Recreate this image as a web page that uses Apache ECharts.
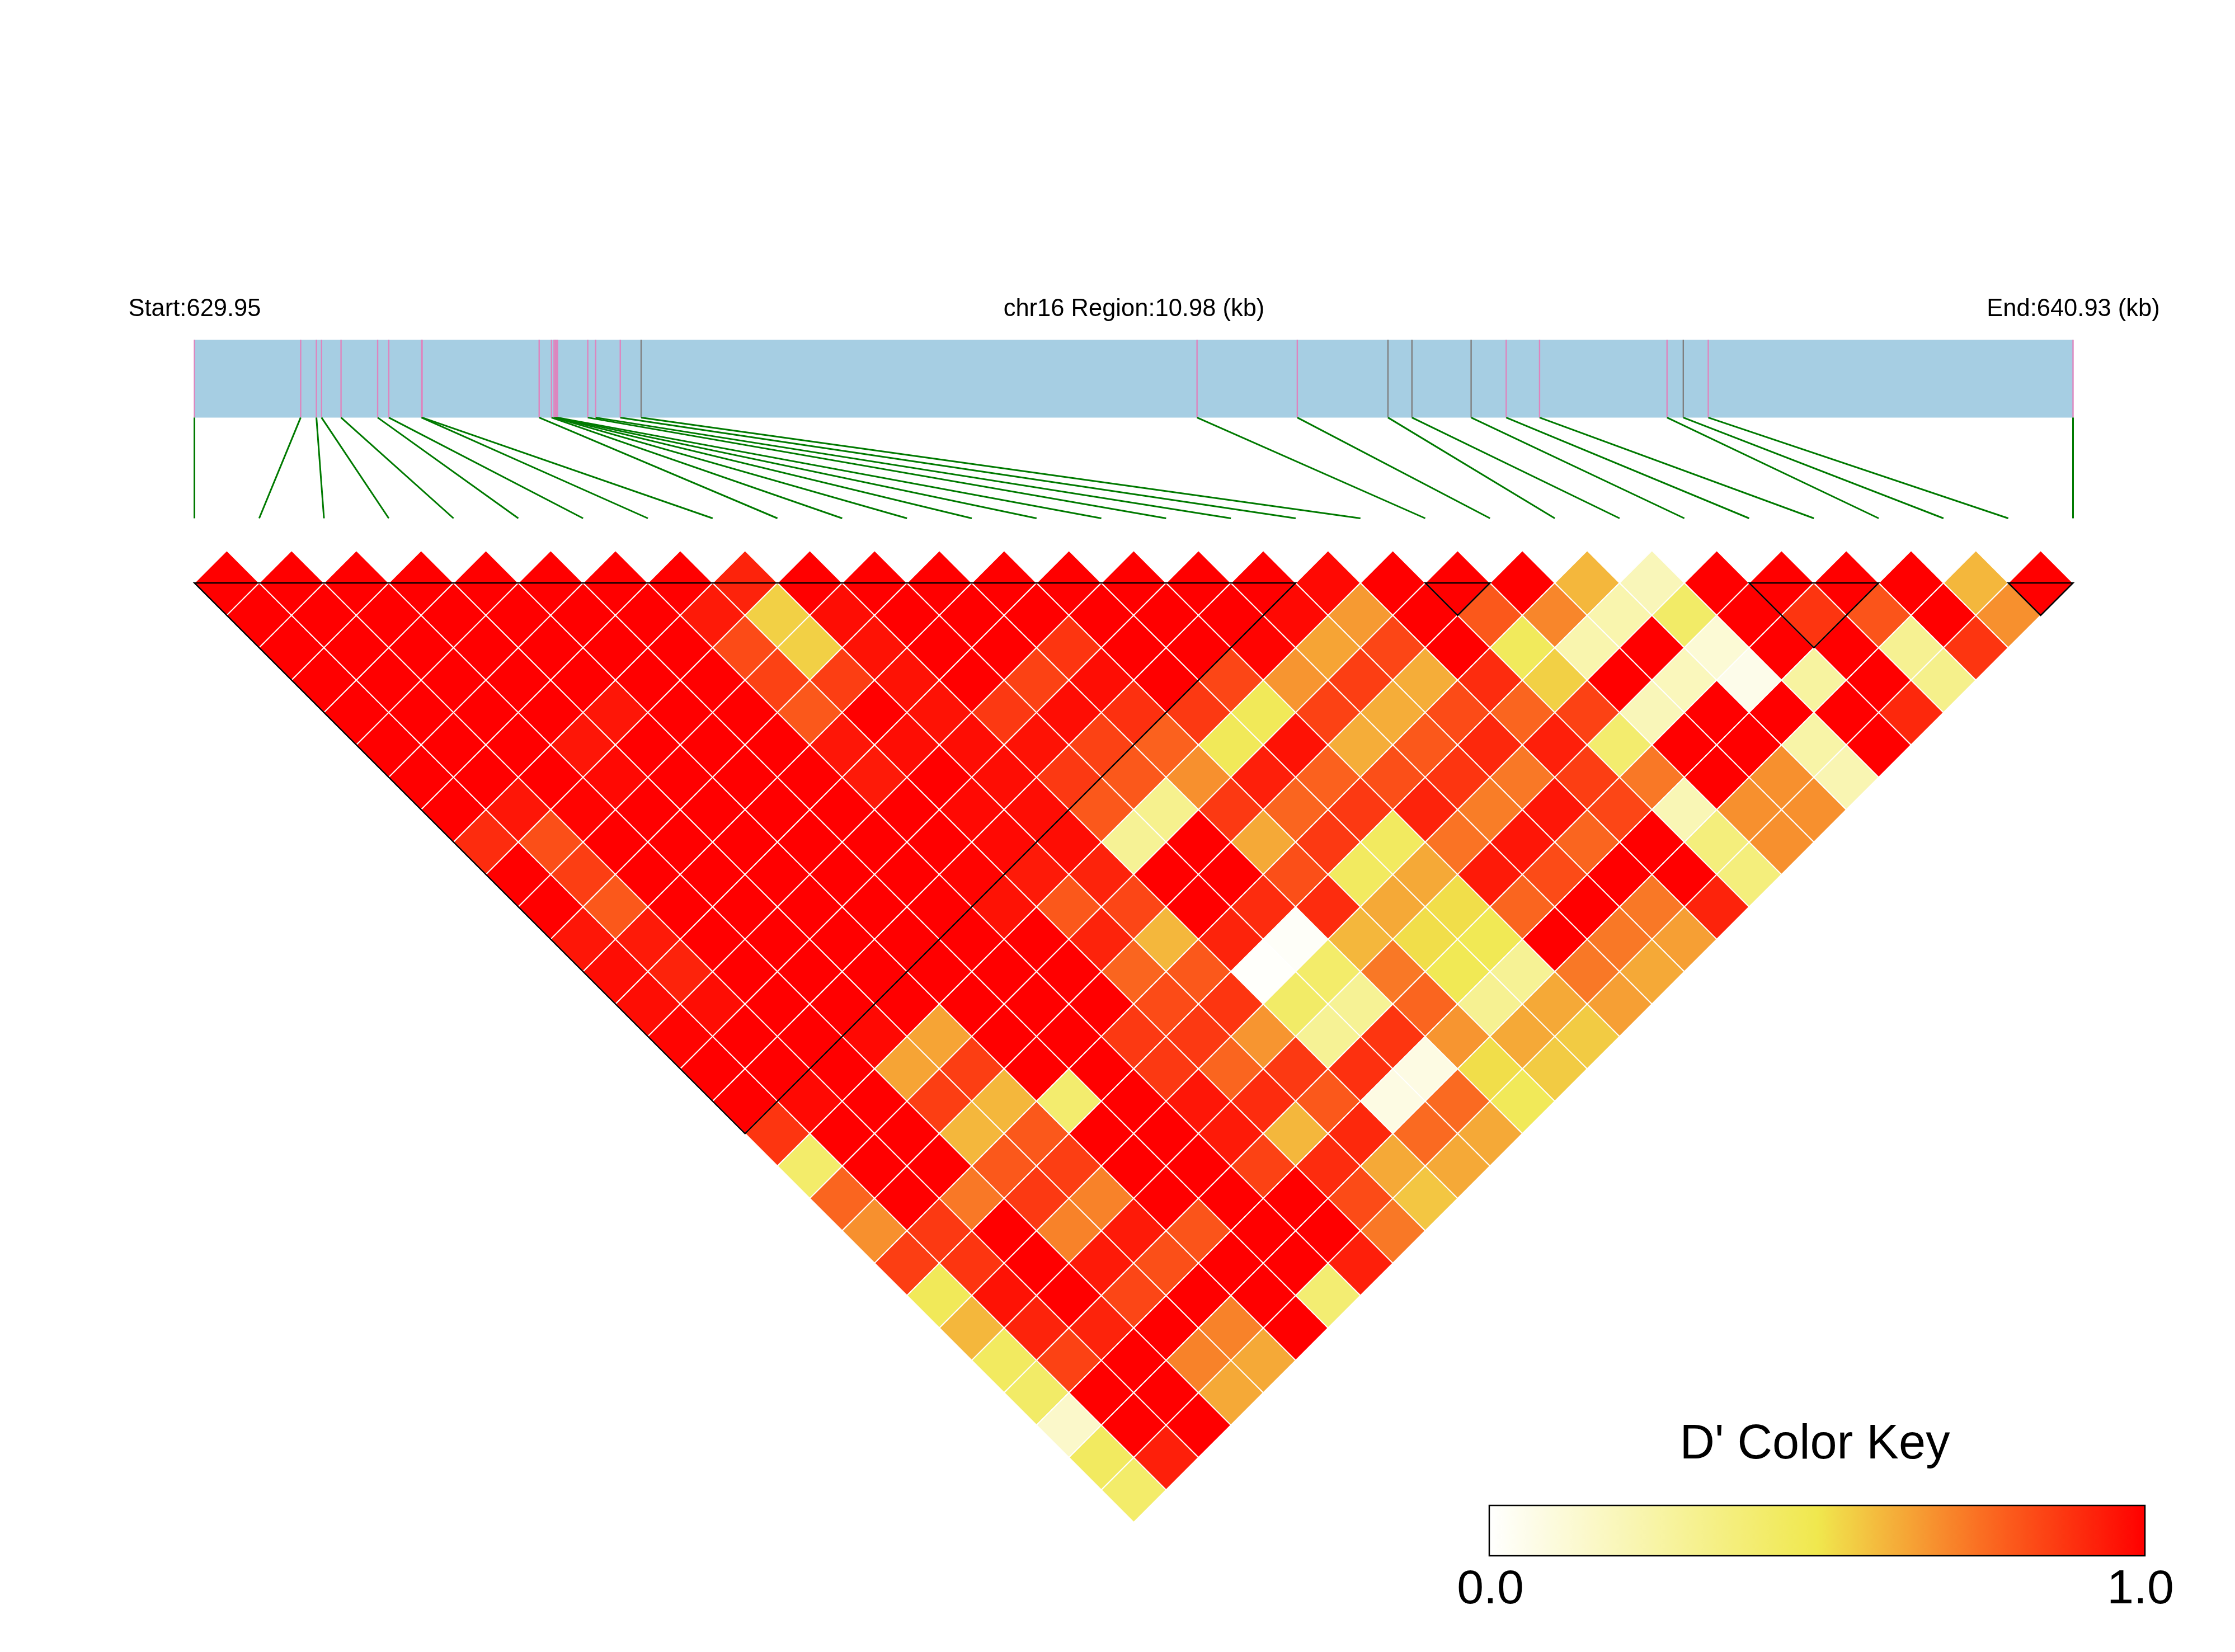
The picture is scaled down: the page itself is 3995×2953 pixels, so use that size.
<!DOCTYPE html>
<html>
<head>
<meta charset="utf-8">
<style>html,body{margin:0;padding:0;background:#fff}#chart{width:3995px;height:2953px}</style>
<script src="https://cdn.jsdelivr.net/npm/echarts@6/dist/echarts.min.js"></script>
</head>
<body>
<div id="chart"></div>
<script>
// SNP positions on the chromosome (kb)
const regionStart = 629.95;
const regionEnd = 640.93;
const snpKb = [629.95,630.571,630.663,630.693,630.807,631.021,631.086,631.277,631.281,631.965,
  632.037,632.052,632.059,632.065,632.072,632.249,632.295,632.439,632.561,635.81,
  636.396,636.926,637.066,637.412,637.617,637.812,638.557,638.652,638.798,640.93];
const graySnps = [18,21,22,23,27];

// LD blocks as [first SNP, last SNP]
const blocks = [[0,17],[19,20],[24,26],[28,29]];

// D' values: each list holds SNP i against SNP i+1, i+2, ... 29
const snp00 = [1,1,1,1,1,1,1,1,.90,1,1,.95,.97,.97,.99,1,1,.88,.42,.77,.68,.86,.47,.60,.45,.43,.15,.45,.42];
const snp01 = [1,1,1,1,1,1,1,.95,.82,.86,.80,.94,.92,.97,1,1,.98,1,1,1,.87,.88,.96,.92,.85,1,1,.93];
const snp02 = [1,1,1,1,1,1,1,.99,1,1,1,1,1,1,1,1,1,1,1,.73,1,1,1,.92,1,1,1];
const snp03 = [1,1,1,1,1,.95,.98,1,1,1,1,1,1,1,.98,.64,.86,.60,.80,.87,.71,.94,.84,1,.71,.63];
const snp04 = [1,1,1,1,.95,1,1,1,1,1,1,1,1,1,.64,.86,.60,.80,.86,.71,.94,.82,1,.71,.63];
const snp05 = [1,1,1,1,1,1,1,1,1,1,1,1,1,1,1,1,.41,1,1,1,.81,1,1,1];
const snp06 = [1,1,1,1,1,1,1,1,1,1,1,1,1,1,1,1,1,1,1,1,1,1,.40];
const snp07 = [1,.94,.83,.85,.80,.95,.94,1,1,.99,.96,1,1,1,.87,.87,.95,.94,.85,1,1,.93];
const snp08 = [.92,.55,.55,.86,1,.97,1,.98,.98,.94,.80,.92,.77,.83,.87,.77,.90,.60,.90,.83,.73];
const snp09 = [1,.97,.96,.96,.96,.97,.97,.97,.97,.92,.84,.60,.80,.88,.67,.87,.80,.91,.63,.57];
const snp10 = [1,1,1,1,.87,.96,.87,.80,.30,1,1,.92,.01,.43,.30,.89,.08,.76,.63];
const snp11 = [1,1,1,.85,.97,.85,.80,.32,1,1,.90,.02,.42,.30,.88,.08,.76,.63];
const snp12 = [1,1,.88,.97,.89,.78,.68,.87,.63,.82,.90,.60,.73,.77,.67,.52,.47];
const snp13 = [1,1,1,1,.87,.47,.93,.77,.87,.45,.63,.52,.48,.31,.63,.56];
const snp14 = [1,1,1,.84,.47,.96,.78,.87,.45,.63,.52,.48,.30,.63,.56];
const snp15 = [1,1,.99,.67,.85,.62,.82,.92,.74,.94,.77,1,.73,.65];
const snp16 = [1,.98,.64,.86,.62,.80,.88,.72,.95,.83,1,.73,.63];
const snp17 = [.98,.66,.84,.62,.83,.91,.73,.95,.77,1,.73,.65];
const snp18 = [1,1,1,.90,.77,.93,.86,.84,1,1,.92];
const snp19 = [1,.80,.46,.55,.85,.41,.73,.21,.37,.37];
const snp20 = [1,.70,.23,1,.20,1,1,.68,.68];
const snp21 = [.60,.23,1,.19,1,1,.68,.68];
const snp22 = [.20,.43,.12,.06,1,.25,.22];
const snp23 = [1,1,1,.27,1,1];
const snp24 = [1,.88,1,1,.91];
const snp25 = [1,.81,.31,.33];
const snp26 = [1,1,.88];
const snp27 = [.60,.68];
const snp28 = [1];
const dPrimeRows = [snp00,snp01,snp02,snp03,snp04,snp05,snp06,snp07,snp08,snp09,snp10,snp11,snp12,snp13,snp14,
  snp15,snp16,snp17,snp18,snp19,snp20,snp21,snp22,snp23,snp24,snp25,snp26,snp27,snp28];

const ldCells = [];
dPrimeRows.forEach((row, i) => row.forEach((v, n) => ldCells.push([i, i + 1 + n, v])));
const snpCount = snpKb.length;
const BAR_BOTTOM = 0.4354;
const FONT = '"Liberation Sans", Arial, sans-serif';

const chart = echarts.init(document.getElementById('chart'), null, {renderer:'canvas'});

function renderCell(params, api) {
  const i = api.value(0), j = api.value(1), cx = (i + j) / 2, k = j - i - 1;
  const points = [[cx - .5, k], [cx, k - 1], [cx + .5, k], [cx, k + 1]].map(p => api.coord(p));
  return {type:'polygon', shape:{points}, style:{fill:api.visual('color'), stroke:'#fff', lineWidth:2}};
}
function renderBlock(params, api) {
  const a = api.value(0), b = api.value(1);
  const points = [[a, 0], [b, 0], [(a + b) / 2, b - a]].map(p => api.coord(p));
  return {type:'polygon', shape:{points}, style:{fill:'none', stroke:'#000', lineWidth:2.5}, z2:10};
}
function renderBar(params, api) {
  const p0 = api.coord([api.value(0), 0]), p1 = api.coord([api.value(1), BAR_BOTTOM]);
  return {type:'rect', shape:{x:p0[0], y:p0[1], width:p1[0]-p0[0], height:p1[1]-p0[1]}, style:{fill:'#A6CEE3'}};
}
function renderTick(params, api) {
  const p0 = api.coord([api.value(0), 0]), p1 = api.coord([api.value(0), BAR_BOTTOM]);
  const gray = graySnps.includes(params.dataIndex);
  return {type:'line', shape:{x1:p0[0], y1:p0[1], x2:p1[0], y2:p1[1]},
    style:{stroke: gray ? '#7F7F7F' : '#DE85BE', lineWidth:2.4}};
}
function renderLink(params, api) {
  const idx = params.dataIndex;
  const bottomKb = regionStart + idx / (snpCount - 1) * (regionEnd - regionStart);
  const p0 = api.coord([api.value(0), BAR_BOTTOM]), p1 = api.coord([bottomKb, 1]);
  return {type:'line', shape:{x1:p0[0], y1:p0[1], x2:p1[0], y2:p1[1]},
    style:{stroke:'#007A00', lineWidth:3}};
}

const hiddenAxis = {show:false, axisLine:{show:false}, axisTick:{show:false}, axisLabel:{show:false}, splitLine:{show:false}};

chart.setOption({
  animation:false,
  backgroundColor:'#ffffff',
  textStyle:{fontFamily:FONT},
  grid:[
    {left:347.5, width:3358, top:984.1, height:1737, show:false},
    {left:347.5, width:3358, top:607.5, height:319, show:false}
  ],
  xAxis:[
    Object.assign({type:'value', gridIndex:0, min:0, max:snpCount - 1}, hiddenAxis),
    Object.assign({type:'value', gridIndex:1, min:regionStart, max:regionEnd}, hiddenAxis)
  ],
  yAxis:[
    Object.assign({type:'value', gridIndex:0, min:-1, max:snpCount - 1, inverse:true}, hiddenAxis),
    Object.assign({type:'value', gridIndex:1, min:0, max:1, inverse:true}, hiddenAxis)
  ],
  visualMap:[{
    type:'continuous', seriesIndex:0, dimension:2, min:0, max:1,
    orient:'horizontal', left:2662, top:2691, itemWidth:90, itemHeight:1172, padding:0,
    calculable:false, realtime:false, hoverLink:false, text:null, showLabel:false,
    inRange:{color:['#FFFFFF','#F8F4A7','#F0E84E','#FA6E22','#FF0000']}
  }],
  series:[
    {type:'custom', name:"D'", xAxisIndex:0, yAxisIndex:0, data:ldCells, renderItem:renderCell, clip:false, silent:true, z:2,
      encode:{x:0, y:1}},
    {type:'custom', name:'blocks', xAxisIndex:0, yAxisIndex:0, data:blocks, renderItem:renderBlock, clip:false, silent:true, z:3,
      encode:{x:[0,1]}},
    {type:'custom', name:'region', xAxisIndex:1, yAxisIndex:1, data:[[regionStart, regionEnd]], renderItem:renderBar, clip:false, silent:true, z:2,
      encode:{x:[0,1]}},
    {type:'custom', name:'snp ticks', xAxisIndex:1, yAxisIndex:1, data:snpKb.map(v => [v]), renderItem:renderTick, clip:false, silent:true, z:3,
      encode:{x:0}},
    {type:'custom', name:'snp links', xAxisIndex:1, yAxisIndex:1, data:snpKb.map(v => [v]), renderItem:renderLink, clip:false, silent:true, z:3,
      encode:{x:0}}
  ],
  graphic:{elements:[
    {type:'text', x:348, y:553, z:20, style:{text:'Start:' + regionStart.toFixed(2), font:'43.5px ' + FONT, fill:'#000', textAlign:'center', textVerticalAlign:'middle'}},
    {type:'text', x:2027, y:553, z:20, style:{text:'chr16 Region:' + (regionEnd - regionStart).toFixed(2) + ' (kb)', font:'43.5px ' + FONT, fill:'#000', textAlign:'center', textVerticalAlign:'middle'}},
    {type:'text', x:3706, y:553, z:20, style:{text:'End:' + regionEnd.toFixed(2) + ' (kb)', font:'43.5px ' + FONT, fill:'#000', textAlign:'center', textVerticalAlign:'middle'}},
    {type:'text', x:3244, y:2583, z:20, style:{text:"D' Color Key", font:'86.5px ' + FONT, fill:'#000', textAlign:'center', textVerticalAlign:'middle'}},
    {type:'text', x:2664, y:2842, z:20, style:{text:'0.0', font:'86px ' + FONT, fill:'#000', textAlign:'center', textVerticalAlign:'middle'}},
    {type:'text', x:3826, y:2842, z:20, style:{text:'1.0', font:'86px ' + FONT, fill:'#000', textAlign:'center', textVerticalAlign:'middle'}},
    {type:'rect', z:20, shape:{x:2662, y:2691, width:1172, height:90}, style:{fill:'none', stroke:'#000', lineWidth:2.5}}
  ]}
});
</script>
</body>
</html>
